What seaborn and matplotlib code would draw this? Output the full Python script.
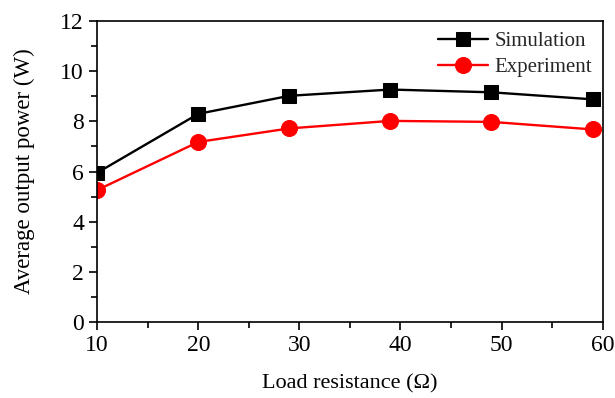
import matplotlib
matplotlib.use("Agg")
import matplotlib.pyplot as plt
import seaborn as sns
import pandas as pd
from matplotlib.ticker import MultipleLocator

load_resistance = [10, 20, 29, 39, 49, 59]
simulation = [5.95, 8.3, 9.02, 9.27, 9.16, 8.88]
experiment = [5.26, 7.18, 7.72, 8.02, 7.98, 7.68]
series_names = ["Simulation", "Experiment"]

sns.set_theme(style="white")
plt.rcParams['font.family'] = ['Liberation Serif', 'DejaVu Serif']
plt.rcParams['mathtext.fontset'] = 'stix'

df_sim = pd.DataFrame({"x": load_resistance, "y": simulation})
df_exp = pd.DataFrame({"x": load_resistance, "y": experiment})

fig = plt.figure(figsize=(6.15, 3.98), dpi=100)
ax = fig.add_axes([0.158, 0.191, 0.822, 0.756])

sns.lineplot(data=df_sim, x="x", y="y", ax=ax, color="black", marker="s",
             markersize=10, linewidth=1.7, markeredgecolor="black",
             label=series_names[0])
sns.lineplot(data=df_exp, x="x", y="y", ax=ax, color="#ff0000", marker="o",
             markersize=11.5, linewidth=1.7, markeredgecolor="#ff0000",
             label=series_names[1])

ax.set_xlim(10, 60)
ax.set_ylim(0, 12)
ax.xaxis.set_major_locator(MultipleLocator(10))
ax.xaxis.set_minor_locator(MultipleLocator(5))
ax.yaxis.set_major_locator(MultipleLocator(2))
ax.yaxis.set_minor_locator(MultipleLocator(1))
ax.tick_params(axis='both', which='both', direction='out', bottom=True, left=True,
               top=False, right=False, colors='black', labelsize=17, width=1.2)
ax.tick_params(which='major', length=6)
ax.tick_params(which='minor', length=4)
for s in ax.spines.values():
    s.set_color('black')
    s.set_linewidth(1.2)

ax.set_xlabel("Load resistance (Ω)", fontsize=16, color='black', labelpad=13)
ax.set_ylabel("Average output power (W)", fontsize=16.5, color='black', labelpad=18)

ax.legend(loc='upper right', frameon=False, fontsize=15, handlelength=2.4,
          handletextpad=0.3, labelspacing=0.3, borderaxespad=0.3,
          borderpad=0.2)

fig.savefig("out.png", dpi=100)
